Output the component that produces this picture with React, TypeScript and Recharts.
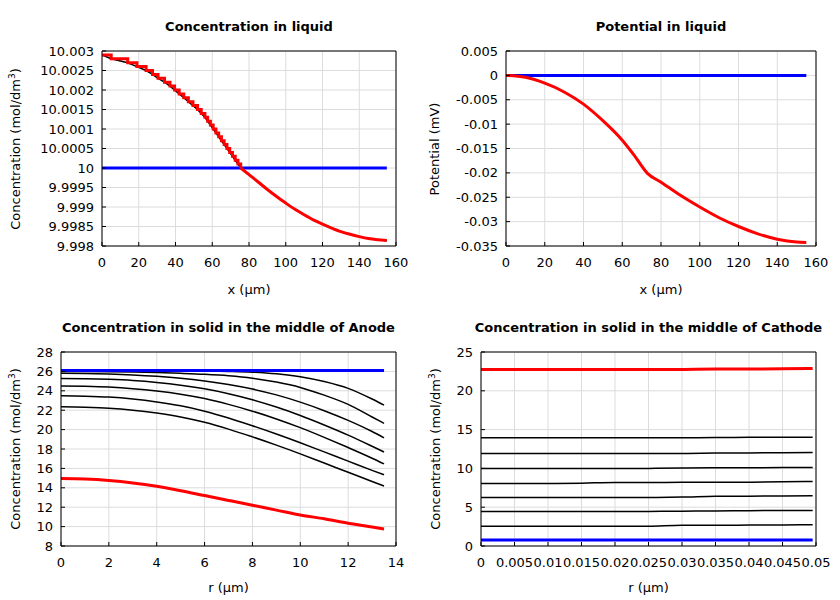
import React from 'react';
import { LineChart, Line, XAxis, YAxis, CartesianGrid } from 'recharts';

// ---- Concentration in liquid ----
const liqStepX = [0, 5, 14, 19, 24, 27.5, 30.5, 34, 37, 39.5, 42, 44.5, 47, 49.5, 52, 54, 56, 57.5, 59, 60.5, 62, 63.5, 65, 66.5, 68, 69.5, 71, 72.5, 74, 75.5];
const liqStepC = [10.0029, 10.0028, 10.0027, 10.0026, 10.0025, 10.0024, 10.0023, 10.0022, 10.0021, 10.002, 10.0019, 10.0018, 10.0017, 10.0016, 10.0015, 10.0014, 10.0013, 10.0012, 10.0011, 10.001, 10.0009, 10.0008, 10.0007, 10.0006, 10.0005, 10.0004, 10.0003, 10.0002, 10.0001, 10.0];
const liqSmoothX = [75.5, 80, 85, 90, 95, 100, 105, 110, 115, 120, 125, 130, 135, 140, 145, 150, 155];
const liqSmoothC = [10.0, 9.99983, 9.99964, 9.99945, 9.99927, 9.9991, 9.99894, 9.9988, 9.99867, 9.99856, 9.99846, 9.99837, 9.9983, 9.99824, 9.99819, 9.99816, 9.99814];
const liqInitX = [0, 155];
const liqInitC = [10, 10];
const liqXTicks = [0, 20, 40, 60, 80, 100, 120, 140, 160];
const liqCTicks = [9.998, 9.9985, 9.999, 9.9995, 10, 10.0005, 10.001, 10.0015, 10.002, 10.0025, 10.003];

// ---- Potential in liquid ----
const potX = [0, 10, 20, 30, 40, 50, 60, 66, 73, 80, 90, 100, 110, 120, 130, 140, 150, 155];
const potV = [0, -0.0004, -0.0016, -0.0034, -0.0059, -0.0093, -0.0133, -0.0163, -0.0201, -0.0219, -0.0246, -0.027, -0.0292, -0.031, -0.0325, -0.0336, -0.0342, -0.0343];
const potInitX = [0, 155];
const potInitV = [0, 0];
const potVTicks = [-0.035, -0.03, -0.025, -0.02, -0.015, -0.01, -0.005, 0, 0.005];

// ---- Anode solid ----
const anodeR = [0, 1, 2, 3, 4, 5, 6, 7, 8, 9, 10, 11, 12, 13, 13.5];
const anodeCurves = [
  [26.1, 26.1, 26.1, 26.09, 26.08, 26.07, 26.05, 26.0, 25.92, 25.75, 25.45, 24.95, 24.25, 23.15, 22.52],
  [26.0, 25.99, 25.97, 25.94, 25.88, 25.8, 25.7, 25.55, 25.3, 24.9, 24.35, 23.55, 22.6, 21.3, 20.65],
  [25.8, 25.78, 25.73, 25.64, 25.5, 25.3, 25.02, 24.65, 24.18, 23.58, 22.83, 21.95, 20.95, 19.8, 19.15],
  [25.28, 25.25, 25.18, 25.06, 24.86, 24.58, 24.2, 23.7, 23.08, 22.33, 21.46, 20.48, 19.43, 18.28, 17.69],
  [24.5, 24.46, 24.38, 24.22, 23.98, 23.65, 23.2, 22.6, 21.9, 21.1, 20.2, 19.2, 18.15, 17.05, 16.46],
  [23.5, 23.45, 23.35, 23.15, 22.85, 22.45, 21.9, 21.2, 20.4, 19.55, 18.65, 17.7, 16.75, 15.8, 15.34],
  [22.35, 22.3, 22.2, 22.0, 21.7, 21.3, 20.75, 20.05, 19.25, 18.4, 17.5, 16.55, 15.6, 14.65, 14.18],
];
const anodeInit = [26.1, 26.1, 26.1, 26.1, 26.1, 26.1, 26.1, 26.1, 26.1, 26.1, 26.1, 26.1, 26.1, 26.1, 26.1];
const anodeEnd = [14.95, 14.9, 14.75, 14.5, 14.15, 13.7, 13.2, 12.7, 12.2, 11.7, 11.2, 10.8, 10.35, 9.95, 9.75];
const anodeRTicks = [0, 2, 4, 6, 8, 10, 12, 14];
const anodeCTicks = [8, 10, 12, 14, 16, 18, 20, 22, 24, 26, 28];

// ---- Cathode solid ----
const cathR = [0, 0.005, 0.01, 0.015, 0.02, 0.025, 0.03, 0.035, 0.04, 0.045, 0.0495];
const cathCurves = [
  [13.94, 13.94, 13.94, 13.94, 13.94, 13.94, 13.95, 13.97, 14.0, 14.01, 14.02],
  [11.92, 11.92, 11.92, 11.92, 11.92, 11.92, 11.93, 11.97, 12.0, 12.03, 12.05],
  [9.99, 9.99, 9.99, 9.99, 9.99, 10.0, 10.04, 10.08, 10.08, 10.1, 10.12],
  [8.06, 8.06, 8.06, 8.1, 8.19, 8.19, 8.2, 8.21, 8.22, 8.27, 8.32],
  [6.26, 6.26, 6.26, 6.26, 6.26, 6.26, 6.3, 6.4, 6.42, 6.45, 6.47],
  [4.46, 4.46, 4.46, 4.46, 4.46, 4.46, 4.48, 4.52, 4.55, 4.58, 4.59],
  [2.53, 2.53, 2.53, 2.53, 2.53, 2.55, 2.68, 2.66, 2.7, 2.72, 2.74],
];
const cathInit = [22.73, 22.73, 22.73, 22.73, 22.73, 22.73, 22.75, 22.8, 22.8, 22.83, 22.87];
const cathEnd = [0.77, 0.77, 0.77, 0.77, 0.77, 0.77, 0.77, 0.77, 0.77, 0.77, 0.77];
const cathRTicks = [0, 0.005, 0.01, 0.015, 0.02, 0.025, 0.03, 0.035, 0.04, 0.045, 0.05];
const cathCTicks = [0, 5, 10, 15, 20, 25];

const pts = (xs: number[], ys: number[]) => xs.map((x, i) => ({ x, y: ys[i] }));

const RED = '#ff0000';
const BLUE = '#0000ff';
const BLACK = '#000000';
const GRID = '#dcdcdc';

interface SeriesDef {
  data: { x: number; y: number }[];
  color: string;
  width: number;
  type?: 'monotone' | 'linear' | 'stepAfter';
}

interface PanelProps {
  left: number;
  top: number;
  width: number;
  height: number;
  plotLeft: number; // y axis width
  plotRight: number; // space right of the plot
  plotTop: number; // space above the plot
  plotBottom: number; // x axis height
  title: string;
  xLabel: string;
  yLabel: React.ReactNode;
  yLabelX: number;
  xDomain: [number, number];
  yDomain: [number, number];
  xTicks: number[];
  yTicks: number[];
  series: SeriesDef[];
}

function Panel(p: PanelProps) {
  const plotW = p.width - p.plotLeft - p.plotRight;
  const plotH = p.height - p.plotTop - p.plotBottom;
  const tickStyle = { fill: '#000', fontSize: 13 };
  return (
    <div style={{ position: 'absolute', left: p.left, top: p.top, width: p.width, height: p.height }}>
      <div
        style={{
          position: 'absolute',
          left: p.plotLeft + plotW / 2,
          top: p.plotTop - 25,
          transform: 'translate(-50%, -50%)',
          fontWeight: 'bold',
          fontSize: 13,
          whiteSpace: 'nowrap',
        }}
      >
        {p.title}
      </div>
      <div
        style={{
          position: 'absolute',
          left: p.yLabelX,
          top: p.plotTop + plotH / 2,
          transform: 'translate(-50%, -50%) rotate(-90deg)',
          fontSize: 13,
          whiteSpace: 'nowrap',
          lineHeight: '15px',
        }}
      >
        {p.yLabel}
      </div>
      <LineChart
        width={p.width}
        height={p.height}
        // top/right frame axes take 1px each (recharts skips 0-sized axes)
        margin={{ top: p.plotTop - 1, right: p.plotRight - 1, bottom: 0, left: 0 }}
      >
        <CartesianGrid stroke={GRID} />
        <XAxis
          dataKey="x"
          type="number"
          domain={p.xDomain}
          ticks={p.xTicks}
          interval={0}
          allowDataOverflow
          height={p.plotBottom}
          stroke={BLACK}
          tickSize={-4}
          tickMargin={16}
          tick={tickStyle}
          tickFormatter={(v) => String(v)}
          label={{ value: p.xLabel, position: 'insideBottom', offset: 8, fill: '#000', fontSize: 13 }}
        />
        <XAxis
          xAxisId="top"
          orientation="top"
          dataKey="x"
          type="number"
          domain={p.xDomain}
          ticks={p.xTicks}
          interval={0}
          allowDataOverflow
          height={1}
          stroke={BLACK}
          tickSize={-4}
          tick={false}
        />
        <YAxis
          type="number"
          domain={p.yDomain}
          ticks={p.yTicks}
          interval={0}
          allowDataOverflow
          width={p.plotLeft}
          stroke={BLACK}
          tickSize={-4}
          tickMargin={12}
          tick={tickStyle}
          tickFormatter={(v) => String(v)}
        />
        <YAxis
          yAxisId="right"
          orientation="right"
          type="number"
          domain={p.yDomain}
          ticks={p.yTicks}
          interval={0}
          allowDataOverflow
          width={1}
          stroke={BLACK}
          tickSize={-4}
          tick={false}
        />
        {/* invisible copy of the first series, bound to the frame axes */}
        <Line
          xAxisId="top"
          yAxisId="right"
          data={p.series[0].data}
          dataKey="y"
          stroke="none"
          dot={false}
          activeDot={false}
          isAnimationActive={false}
        />
        {p.series.map((s, i) => (
          <Line
            key={i}
            data={s.data}
            dataKey="y"
            type={s.type ?? 'monotone'}
            stroke={s.color}
            strokeWidth={s.width}
            dot={false}
            activeDot={false}
            isAnimationActive={false}
          />
        ))}
      </LineChart>
    </div>
  );
}

const concLabel = (
  <span>
    Concentration (mol/dm<span style={{ fontSize: 9, verticalAlign: 'super' }}>3</span>)
  </span>
);

export default function App() {
  const liqAll = pts([...liqStepX, ...liqSmoothX.slice(1)], [...liqStepC, ...liqSmoothC.slice(1)]);
  return (
    <div
      style={{
        position: 'absolute',
        left: 0,
        top: 0,
        width: 840,
        height: 600,
        background: '#fff',
        fontFamily: '"DejaVu Sans", sans-serif',
        color: '#000',
      }}
    >
      <Panel
        left={0}
        top={40}
        width={420}
        height={262}
        plotLeft={102}
        plotRight={24}
        plotTop={11}
        plotBottom={56}
        title="Concentration in liquid"
        xLabel="x (µm)"
        yLabel={concLabel}
        yLabelX={14}
        xDomain={[0, 160]}
        yDomain={[9.998, 10.003]}
        xTicks={liqXTicks}
        yTicks={liqCTicks}
        series={[
          { data: liqAll, color: BLACK, width: 1.5, type: 'linear' },
          { data: pts(liqInitX, liqInitC), color: BLUE, width: 3 },
          { data: pts(liqStepX, liqStepC), color: RED, width: 3, type: 'stepAfter' },
          { data: pts(liqSmoothX, liqSmoothC), color: RED, width: 3 },
        ]}
      />
      <Panel
        left={420}
        top={40}
        width={420}
        height={262}
        plotLeft={86}
        plotRight={24}
        plotTop={11}
        plotBottom={56}
        title="Potential in liquid"
        xLabel="x (µm)"
        yLabel="Potential (mV)"
        yLabelX={14}
        xDomain={[0, 160]}
        yDomain={[-0.035, 0.005]}
        xTicks={liqXTicks}
        yTicks={potVTicks}
        series={[
          { data: pts(potInitX, potInitV), color: BLUE, width: 3 },
          { data: pts(potX, potV), color: RED, width: 3 },
        ]}
      />
      <Panel
        left={0}
        top={340}
        width={420}
        height={260}
        plotLeft={61}
        plotRight={24}
        plotTop={12}
        plotBottom={54}
        title="Concentration in solid in the middle of Anode"
        xLabel="r (µm)"
        yLabel={concLabel}
        yLabelX={14}
        xDomain={[0, 14]}
        yDomain={[8, 28]}
        xTicks={anodeRTicks}
        yTicks={anodeCTicks}
        series={[
          ...anodeCurves.map((c) => ({ data: pts(anodeR, c), color: BLACK, width: 1.5 })),
          { data: pts(anodeR, anodeInit), color: BLUE, width: 3 },
          { data: pts(anodeR, anodeEnd), color: RED, width: 3 },
        ]}
      />
      <Panel
        left={420}
        top={340}
        width={420}
        height={260}
        plotLeft={61}
        plotRight={24}
        plotTop={12}
        plotBottom={54}
        title="Concentration in solid in the middle of Cathode"
        xLabel="r (µm)"
        yLabel={concLabel}
        yLabelX={14}
        xDomain={[0, 0.05]}
        yDomain={[0, 25]}
        xTicks={cathRTicks}
        yTicks={cathCTicks}
        series={[
          { data: pts(cathR, cathEnd), color: BLUE, width: 3 },
          ...cathCurves.map((c) => ({ data: pts(cathR, c), color: BLACK, width: 1.5 })),
          { data: pts(cathR, cathInit), color: RED, width: 3 },
        ]}
      />
    </div>
  );
}
